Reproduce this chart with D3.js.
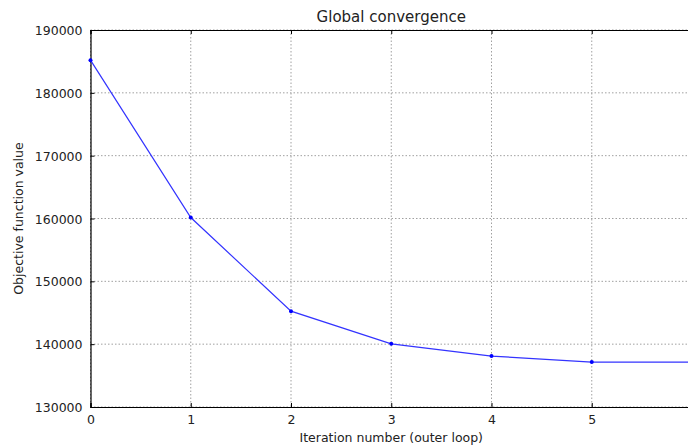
<!DOCTYPE html>
<html>
<head>
<meta charset="utf-8">
<script src="https://cdn.jsdelivr.net/npm/d3@7"></script>
<style>
    body { margin: 0; background: #fff; }
    text { font-family: "DejaVu Sans", sans-serif; fill: #000; }
</style>
</head>
<body>
<div id="chart"></div>
<script>
// data
var iterations = [0, 1, 2, 3, 4, 5, 6];
var objective = [185200, 160150, 145250, 140050, 138100, 137150, 137150];
var xTicks = [0, 1, 2, 3, 4, 5, 6];
var yTicks = [130000, 140000, 150000, 160000, 170000, 180000, 190000];

var width = 688;
var height = 448;
var margins = { top: 30, right: -4, bottom: 41, left: 90.5 };
var innerWidth = width - margins.left - margins.right;
var innerHeight = height - margins.top - margins.bottom;

var svg = d3.select('#chart')
    .append('svg')
    .attr('width', width)
    .attr('height', height);

var g = svg.append('g')
    .attr('transform', 'translate(' + margins.left + ',' + margins.top + ')');

var x = d3.scaleLinear().domain([0, 6]).range([0, innerWidth]);
var y = d3.scaleLinear().domain([130000, 190000]).range([innerHeight, 0]);

// grid
g.append('g')
    .selectAll('line')
    .data(xTicks)
    .enter()
    .append('line')
    .attr('x1', function(d) { return x(d); })
    .attr('x2', function(d) { return x(d); })
    .attr('y1', 0)
    .attr('y2', innerHeight)
    .style('stroke', '#a0a0a0')
    .style('stroke-width', 1)
    .style('stroke-dasharray', '1.5,2');

g.append('g')
    .selectAll('line')
    .data(yTicks)
    .enter()
    .append('line')
    .attr('x1', 0)
    .attr('x2', innerWidth)
    .attr('y1', function(d) { return y(d); })
    .attr('y2', function(d) { return y(d); })
    .style('stroke', '#a0a0a0')
    .style('stroke-width', 1)
    .style('stroke-dasharray', '1.5,2');

// axes with inward ticks
var xAxis = g.append('g')
    .attr('transform', 'translate(0,' + innerHeight + ')')
    .call(d3.axisBottom(x).tickValues(xTicks).tickSize(-4).tickPadding(8).tickFormat(d3.format('d')));
var xTop = g.append('g')
    .call(d3.axisTop(x).tickValues(xTicks).tickSize(-4).tickFormat(''));
var yAxis = g.append('g')
    .call(d3.axisLeft(y).tickValues(yTicks).tickSize(-4).tickPadding(8).tickFormat(d3.format('d')));

[xAxis, xTop, yAxis].forEach(function(a) {
    a.select('.domain').style('stroke', '#000').style('stroke-width', 1.2);
    a.selectAll('.tick line').style('stroke', '#000');
    a.selectAll('.tick text')
        .style('font-size', '12.5px')
        .style('font-family', '"DejaVu Sans", sans-serif')
        .style('fill', '#222');
});
yAxis.selectAll('.tick text').attr('dy', '0.36em');

// line
var line = d3.line()
    .x(function(d, i) { return x(iterations[i]); })
    .y(function(d) { return y(d); });

g.append('path')
    .datum(objective)
    .attr('d', line)
    .style('fill', 'none')
    .style('stroke', '#3333ff')
    .style('stroke-width', 1.2);

g.append('g')
    .selectAll('circle')
    .data(objective)
    .enter()
    .append('circle')
    .attr('cx', function(d, i) { return x(iterations[i]); })
    .attr('cy', function(d) { return y(d); })
    .attr('r', 2)
    .style('fill', '#0000ff');

// title and labels
g.append('text')
    .attr('x', x(3))
    .attr('y', -8)
    .attr('text-anchor', 'middle')
    .style('font-size', '15px')
    .style('fill', '#222')
    .text('Global convergence');

g.append('text')
    .attr('x', x(3))
    .attr('y', innerHeight + 35)
    .attr('text-anchor', 'middle')
    .style('font-size', '12.5px')
    .style('fill', '#222')
    .text('Iteration number (outer loop)');

g.append('text')
    .attr('transform', 'translate(' + (23 - margins.left) + ',' + (innerHeight / 2) + ') rotate(-90)')
    .attr('text-anchor', 'middle')
    .style('font-size', '12.5px')
    .style('fill', '#222')
    .text('Objective function value');
</script>
</body>
</html>
